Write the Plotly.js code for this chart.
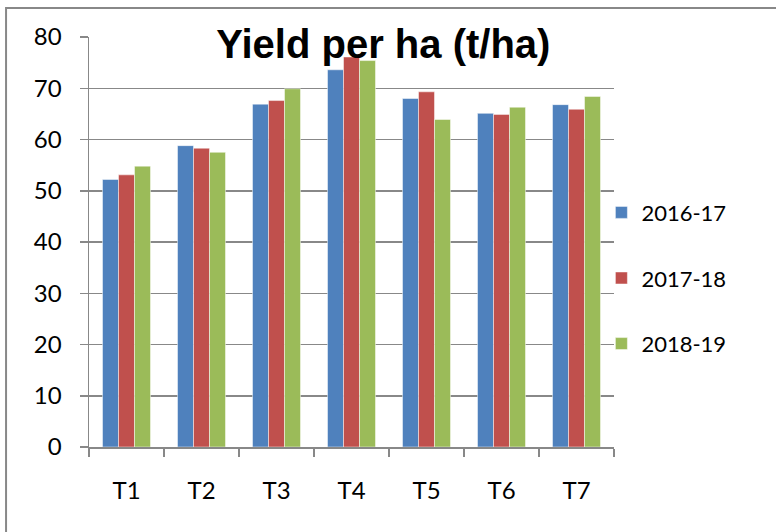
<!DOCTYPE html>
<html>
<head>
<meta charset="utf-8">
<script src="https://cdn.plot.ly/plotly-3.0.1.min.js"></script>
<style>html,body{margin:0;padding:0;background:#fff;}#chart{width:776px;height:532px;}</style>
</head>
<body>
<div id="chart"></div>
<script>
const categories = ["T1","T2","T3","T4","T5","T6","T7"];
const seriesNames = ["2016-17","2017-18","2018-19"];
const y2016 = [52.2, 58.8, 66.9, 73.6, 68.0, 65.1, 66.8];
const y2017 = [53.1, 58.3, 67.6, 76.1, 69.3, 64.9, 65.9];
const y2018 = [54.8, 57.5, 69.9, 75.4, 63.9, 66.3, 68.4];
const yTicks = [0,10,20,30,40,50,60,70,80];
const colors = ["#4F81BD","#C0504D","#9BBB59"];

const values = [y2016, y2017, y2018];
const traces = values.map((v, i) => ({
  type: "bar",
  x: categories,
  y: v,
  name: seriesNames[i],
  legendgroup: "g" + i,
  marker: {color: colors[i], line: {color: "rgba(255,255,255,0.6)", width: 0.8}},
  hoverinfo: "x+y+name"
}));

const layout = {
  width: 776, height: 532,
  margin: {l: 89, r: 162, t: 37, b: 85},
  paper_bgcolor: "#fff", plot_bgcolor: "#fff",
  font: {family: "Lato, 'Liberation Sans', sans-serif", color: "#000", size: 24},
  title: {text: "<b>Yield per ha (t/ha)</b>", font: {family: "'Liberation Sans', Arial, sans-serif", size: 40, color: "#000"},
          x: 0.494, xref: "container", xanchor: "center", y: 0.918, yref: "container", yanchor: "middle"},
  barmode: "group", bargap: 0.36, bargroupgap: 0,
  xaxis: {
    type: "category", showline: true, linecolor: "#888", linewidth: 1.5,
    ticks: "outside", tickson: "boundaries", ticklen: 8, tickcolor: "#888", tickwidth: 1.5,
    ticklabelstandoff: 22, tickfont: {size: 24}, showgrid: false, zeroline: false, fixedrange: true
  },
  yaxis: {
    range: [0, 80], tickvals: yTicks, showline: true, linecolor: "#888", linewidth: 1.5,
    ticks: "outside", ticklen: 8, tickcolor: "#888", tickwidth: 1.5,
    showgrid: true, gridcolor: "#888", gridwidth: 1.5, zeroline: false,
    ticklabelstandoff: 13, tickfont: {size: 24}, fixedrange: true
  },
  legend: {
    x: 0.976, xanchor: "left", y: 0.412, yanchor: "middle",
    traceorder: "grouped", tracegroupgap: 34, font: {size: 22},
    itemwidth: 30, bgcolor: "rgba(0,0,0,0)"
  },
  shapes: [{
    type: "rect", xref: "paper", yref: "paper",
    x0: -0.158, x1: 1.6, y0: -0.5, y1: 1.0707,
    line: {color: "#888", width: 2}, fillcolor: "rgba(0,0,0,0)", layer: "below"
  }]
};

Plotly.newPlot("chart", traces, layout, {displayModeBar: false, staticPlot: true});
</script>
</body>
</html>
